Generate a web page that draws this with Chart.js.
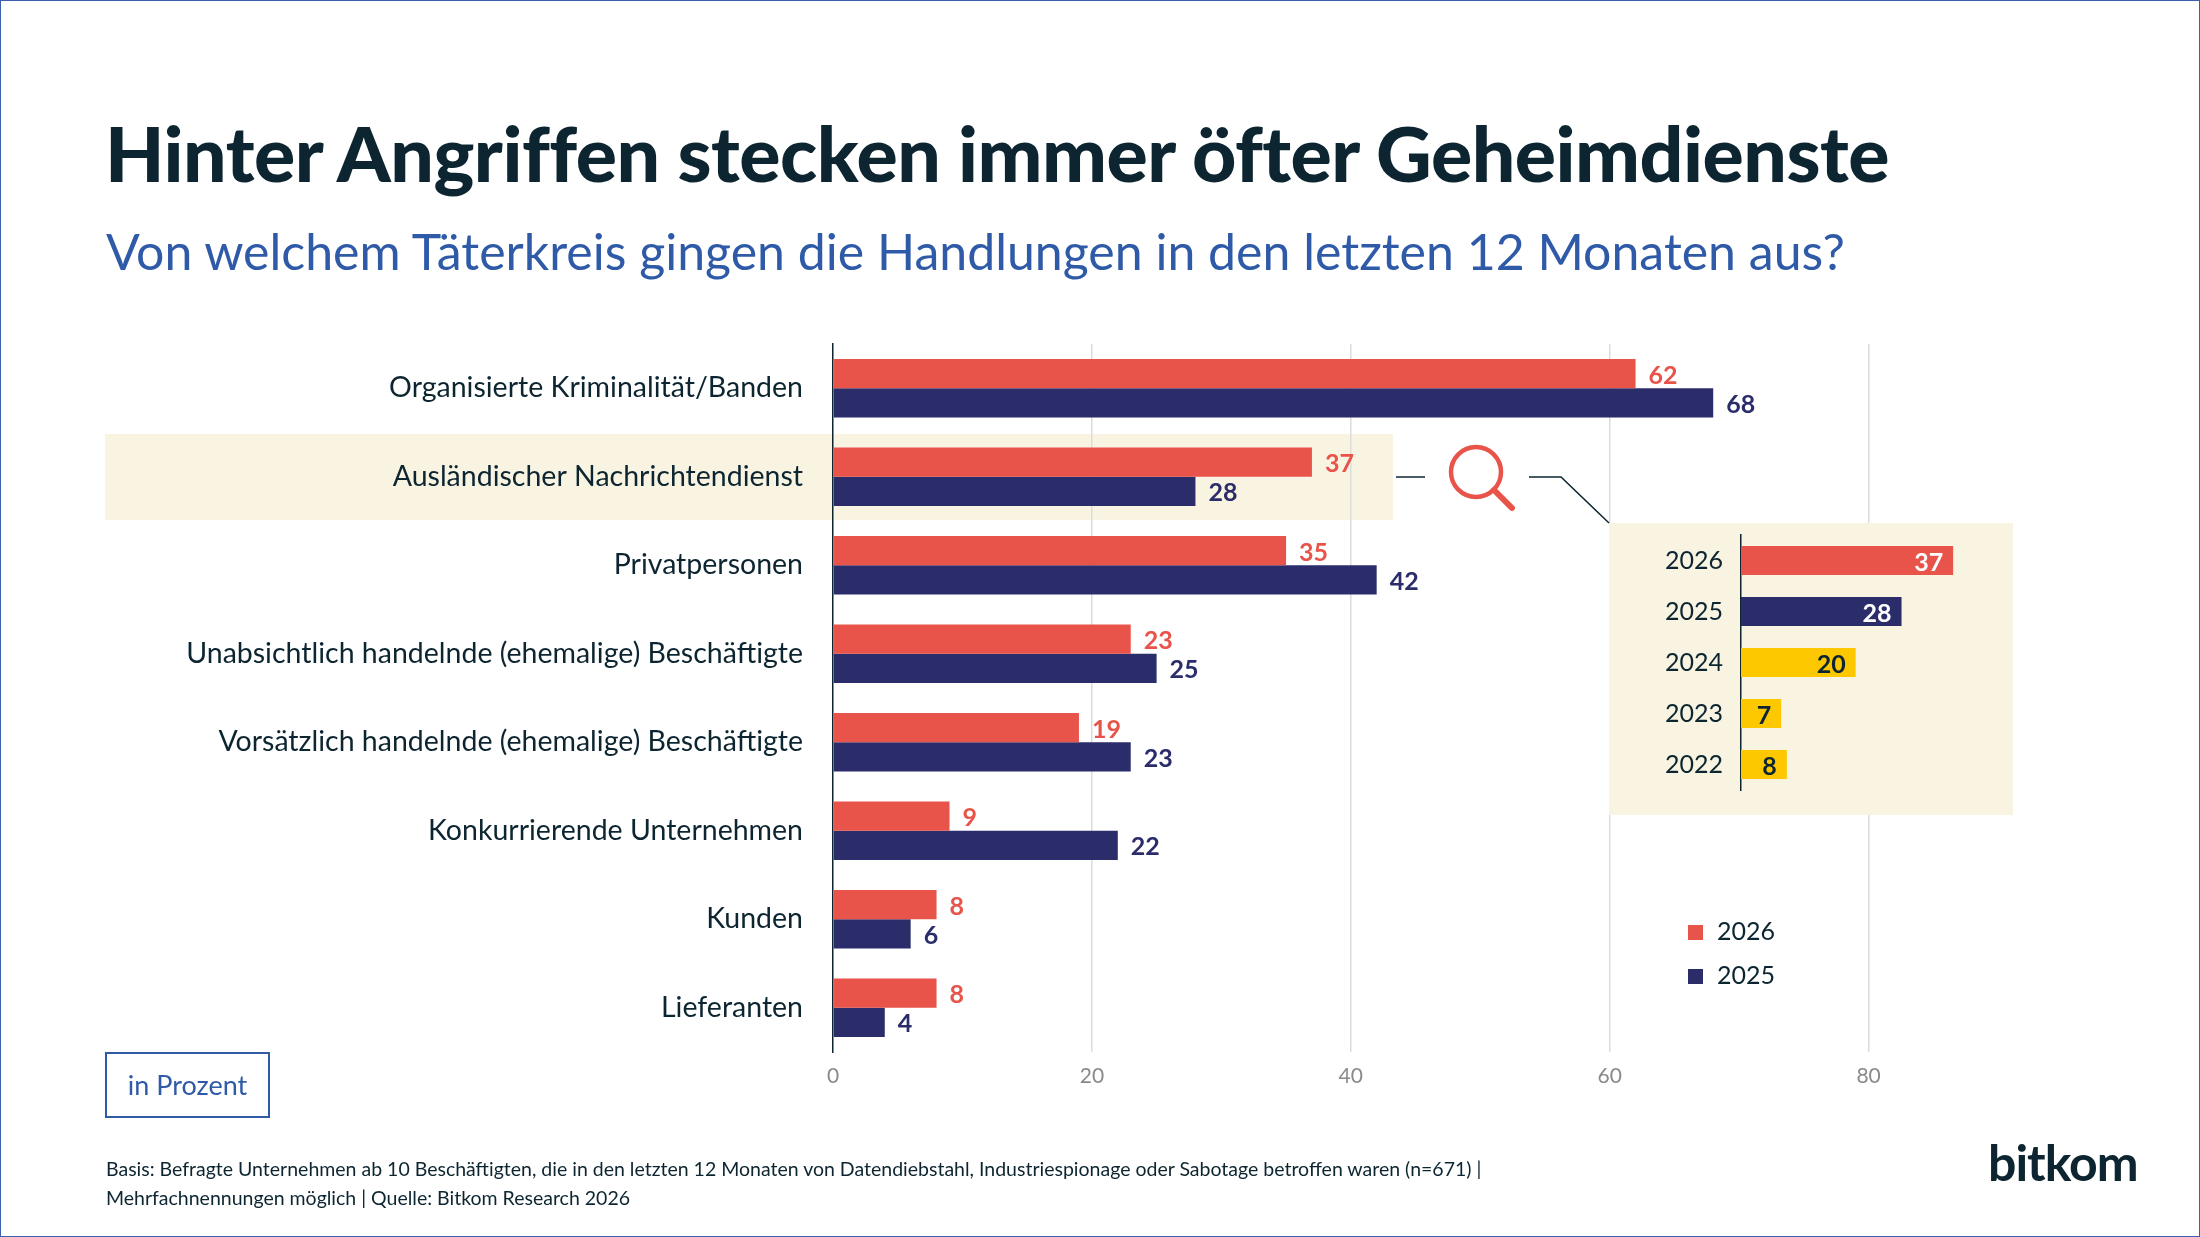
<!DOCTYPE html>
<html><head><meta charset="utf-8">
<script src="https://cdn.jsdelivr.net/npm/chart.js@4"></script>
<style>
html,body{margin:0;padding:0;}
body{width:2200px;height:1237px;position:relative;background:#fff;font-family:Lato,"Open Sans",sans-serif;overflow:hidden;}
#frame{position:absolute;left:0;top:0;width:2198px;height:1235px;border:1px solid #3a5fb0;}
.abs{position:absolute;}
#title{left:105px;top:106px;font-size:77px;font-weight:900;color:#0c2530;white-space:nowrap;letter-spacing:-0.5px;}
#sub{left:106px;top:221px;font-size:50px;color:#2f5aa8;white-space:nowrap;}
#band{left:105px;top:434px;width:1288px;height:86px;background:#f9f4e2;}
#inbox{left:1609px;top:523px;width:404px;height:292px;background:#f9f4e2;}
#pct{left:105px;top:1052px;width:161px;height:62px;border:2px solid #2f5aa8;color:#2f5aa8;font-size:27px;line-height:62px;text-align:center;}
.foot{left:106px;font-size:19.5px;color:#0c2530;white-space:nowrap;}
#logo{left:1988px;top:1132px;font-size:50px;font-weight:700;color:#0c2530;letter-spacing:-1px;}
.leg{left:1688px;font-size:25px;color:#0c2530;}
.leg span{display:inline-block;width:15px;height:15px;margin-right:14px;}
</style></head><body>
<div id="frame"></div>
<div id="title" class="abs">Hinter Angriffen stecken immer öfter Geheimdienste</div>
<div id="sub" class="abs">Von welchem Täterkreis gingen die Handlungen in den letzten 12 Monaten aus?</div>
<div id="band" class="abs"></div>
<div class="abs" style="left:0;top:330px;width:2020px;height:772px;"><canvas id="main" width="2020" height="772" style="width:2020px;height:772px;display:block"></canvas></div>
<svg class="abs" style="left:0;top:0" width="2200" height="1237">
<line x1="1396" y1="477" x2="1425" y2="477" stroke="#0c2530" stroke-width="1.5"/>
<circle cx="1476" cy="472" r="25" fill="none" stroke="#e8534a" stroke-width="4.5"/>
<line x1="1494" y1="490" x2="1512" y2="508" stroke="#e8534a" stroke-width="6" stroke-linecap="round"/>
<polyline points="1529,477 1561,477 1609,523" fill="none" stroke="#0c2530" stroke-width="1.5"/>
</svg>
<div id="inbox" class="abs"></div>
<div class="abs" style="left:1609px;top:523px;width:404px;height:292px;"><canvas id="inset" width="404" height="292" style="width:404px;height:292px;display:block"></canvas></div>
<div class="abs leg" style="top:915px"><span style="background:#e8534a"></span>2026</div>
<div class="abs leg" style="top:959px"><span style="background:#2b2d6b"></span>2025</div>
<div id="pct" class="abs">in Prozent</div>
<div class="abs foot" style="top:1157px">Basis: Befragte Unternehmen ab 10 Beschäftigten, die in den letzten 12 Monaten von Datendiebstahl, Industriespionage oder Sabotage betroffen waren (n=671) |</div>
<div class="abs foot" style="top:1186px">Mehrfachnennungen möglich | Quelle: Bitkom Research 2026</div>
<div id="logo" class="abs">bitkom</div>
<script>
const categories=["Organisierte Kriminalität/Banden","Ausländischer Nachrichtendienst","Privatpersonen","Unabsichtlich handelnde (ehemalige) Beschäftigte","Vorsätzlich handelnde (ehemalige) Beschäftigte","Konkurrierende Unternehmen","Kunden","Lieferanten"];
const values2026=[62,37,35,23,19,9,8,8];
const values2025=[68,28,42,25,23,22,6,4];
const xTicks=[0,20,40,60,80];
const insetYears=["2026","2025","2024","2023","2022"];
const insetValues=[37,28,20,7,8];
const RED="#e8534a",NAVY="#2b2d6b",YEL="#fec800",DARK="#0c2530";
const FONT="Lato, 'Open Sans', sans-serif";

const mainLabels={id:"mainLabels",afterDatasetsDraw(c){
  const ctx=c.ctx,ys=c.scales.y;ctx.save();
  ctx.font="28.5px "+FONT;ctx.fillStyle=DARK;ctx.textAlign="right";ctx.textBaseline="middle";
  categories.forEach((t,i)=>ctx.fillText(t,c.chartArea.left-30,ys.getPixelForValue(i)));
  ctx.font="bold 25px "+FONT;ctx.textAlign="left";
  c.data.datasets.forEach((ds,di)=>{c.getDatasetMeta(di).data.forEach((b,i)=>{
    ctx.fillStyle=ds.backgroundColor;ctx.fillText(String(ds.data[i]),b.x+13,b.y+2);});});
  ctx.restore();}};

new Chart(document.getElementById("main"),{type:"bar",
 data:{labels:categories,datasets:[
  {label:"2026",data:values2026,backgroundColor:RED,barPercentage:1,categoryPercentage:0.66},
  {label:"2025",data:values2025,backgroundColor:NAVY,barPercentage:1,categoryPercentage:0.66}]},
 options:{indexAxis:"y",responsive:false,maintainAspectRatio:false,animation:false,devicePixelRatio:1,
  layout:{padding:{top:14,right:22,left:0,bottom:0}},
  plugins:{legend:{display:false},tooltip:{enabled:false}},
  scales:{
   x:{min:0,max:90,afterBuildTicks(s){s.ticks=xTicks.map(v=>({value:v}));},
      afterFit(s){s.height=50;},
      ticks:{color:"#8a8a8a",font:{size:21,family:FONT},padding:12},
      grid:{color:ctx=>ctx.tick&&ctx.tick.value===0?"transparent":"#dcdcdc",lineWidth:1.5,drawTicks:false},
      border:{display:false}},
   y:{afterFit(s){s.width=833;},ticks:{display:false},grid:{display:false},
      border:{display:true,color:DARK,width:1.5}}}},
 plugins:[mainLabels]});

const insetLabels={id:"insetLabels",afterDatasetsDraw(c){
  const ctx=c.ctx,ys=c.scales.y;ctx.save();ctx.textBaseline="middle";
  ctx.font="25px "+FONT;ctx.fillStyle=DARK;ctx.textAlign="right";
  insetYears.forEach((t,i)=>ctx.fillText(t,c.chartArea.left-18,ys.getPixelForValue(i)));
  ctx.font="bold 25px "+FONT;
  c.getDatasetMeta(0).data.forEach((b,i)=>{ctx.fillStyle=i<2?"#fff":DARK;ctx.fillText(String(insetValues[i]),b.x-10,b.y+2);});
  ctx.restore();}};
new Chart(document.getElementById("inset"),{type:"bar",
 data:{labels:insetYears,datasets:[{data:insetValues,backgroundColor:[RED,NAVY,YEL,YEL,YEL],barPercentage:0.57,categoryPercentage:1}]},
 options:{indexAxis:"y",responsive:false,maintainAspectRatio:false,animation:false,devicePixelRatio:1,
  layout:{padding:{top:12,right:14,left:0,bottom:25}},
  plugins:{legend:{display:false},tooltip:{enabled:false}},
  scales:{x:{min:0,max:45,display:false},
   y:{afterFit(s){s.width=132;},ticks:{display:false},grid:{display:false},border:{display:true,color:DARK,width:1.5}}}},
 plugins:[insetLabels]});
</script>
</body></html>
